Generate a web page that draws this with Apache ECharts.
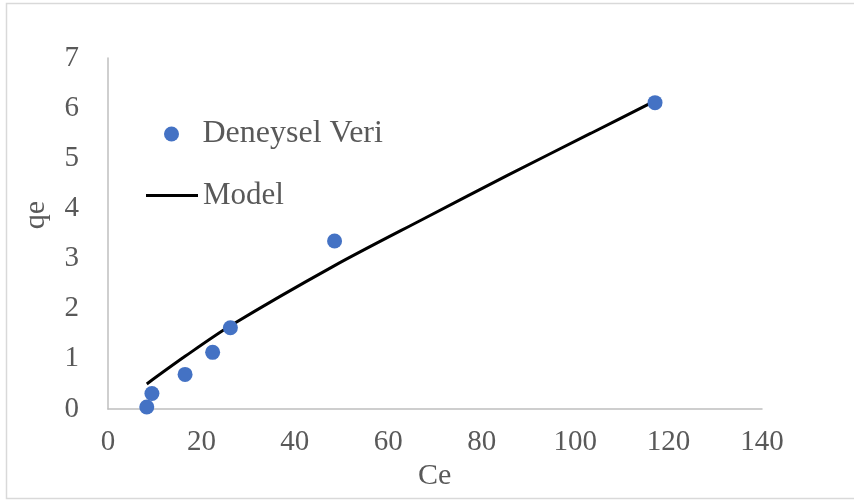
<!DOCTYPE html>
<html>
<head>
<meta charset="utf-8">
<script src="https://cdn.jsdelivr.net/npm/echarts@6/dist/echarts.min.js"></script>
<style>html,body{margin:0;padding:0;background:#fff;}#c{width:854px;height:501px;}</style>
</head>
<body>
<div id="c"></div>
<script>
const ceData = [8.3, 9.4, 16.5, 22.4, 26.2, 48.5, 117.1];
const qeData = [0.04, 0.31, 0.69, 1.13, 1.62, 3.35, 6.11];
const modelCe = [8.3, 16.5, 26.2, 48.5, 67.7, 85.5, 103.4, 117];
const modelQe = [0.50, 1.05, 1.66, 2.86, 3.80, 4.66, 5.50, 6.14];
const xTicks = [0, 20, 40, 60, 80, 100, 120, 140];
const yTicks = [0, 1, 2, 3, 4, 5, 6, 7];

const FONT = '"Liberation Serif", "Times New Roman", serif';
const TXT = '#595959';
const chart = echarts.init(document.getElementById('c'), null, {renderer: 'canvas'});
chart.setOption({
  animation: false,
  backgroundColor: '#fff',
  grid: {left: 108, right: 92, top: 58, bottom: 92, containLabel: false},
  xAxis: {
    type: 'value', min: xTicks[0], max: xTicks[xTicks.length-1], interval: 20,
    axisLine: {show: true, lineStyle: {color: '#BFBFBF', width: 1.5}},
    axisTick: {show: false}, splitLine: {show: false},
    axisLabel: {color: TXT, fontFamily: FONT, fontSize: 29, margin: 19}
  },
  yAxis: {
    type: 'value', min: yTicks[0], max: yTicks[yTicks.length-1], interval: 1,
    axisLine: {show: true, lineStyle: {color: '#BFBFBF', width: 1.5}},
    axisTick: {show: false}, splitLine: {show: false},
    axisLabel: {color: TXT, fontFamily: FONT, fontSize: 29, margin: 29}
  },
  legend: [
    {data: ['Deneysel Veri'], left: 164, top: 118, padding: 0, itemWidth: 52, itemHeight: 15, itemGap: 5,
     textStyle: {color: TXT, fontFamily: FONT, fontSize: 32, lineHeight: 30}},
    {data: [{name: 'Model', icon: 'rect', itemStyle: {color: '#000'}}], left: 146, top: 180, padding: 0, itemWidth: 52, itemHeight: 3, itemGap: 5,
     textStyle: {color: TXT, fontFamily: FONT, fontSize: 31, lineHeight: 30}}
  ],
  graphic: [
    {type: 'rect', silent: true, z: -1, shape: {x: 6.5, y: 3.5, width: 900, height: 495}, style: {fill: 'none', stroke: '#D9D9D9', lineWidth: 1.5}},
    {type: 'text', left: 418, top: 461, style: {text: 'Ce', fill: TXT, font: '30px ' + FONT}},
    {type: 'text', x: 36, y: 215, rotation: Math.PI/2, style: {text: 'qe', fill: TXT, font: '30px ' + FONT, align: 'center', verticalAlign: 'middle'}}
  ],
  series: [
    {name: 'Model', type: 'line', data: modelCe.map((c,i)=>[c, modelQe[i]]), symbol: 'none', showSymbol: false, smooth: 0.3,
     lineStyle: {color: '#000', width: 3}, itemStyle: {color: '#000'}, z: 2},
    {name: 'Deneysel Veri', type: 'scatter', data: ceData.map((c,i)=>[c, qeData[i]]), symbol: 'circle', symbolSize: 15,
     itemStyle: {color: '#4472C4', opacity: 1}, z: 3}
  ]
});
</script>
</body>
</html>
